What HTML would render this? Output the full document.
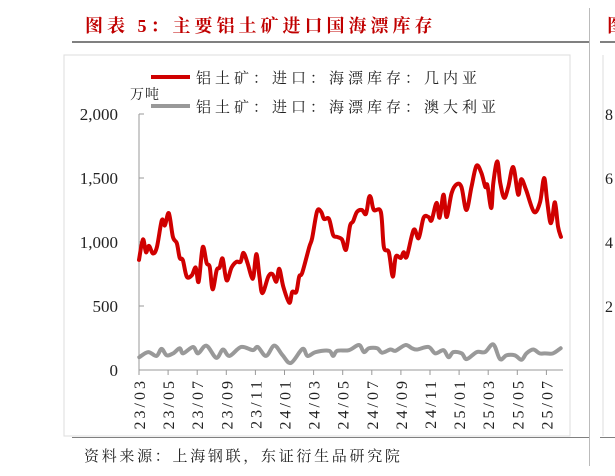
<!DOCTYPE html>
<html><head><meta charset="utf-8"><style>
body{margin:0;background:#fff;width:615px;height:476px;overflow:hidden;position:relative;font-family:"Liberation Serif","Noto Serif CJK SC",serif}
.abs{position:absolute}
</style></head><body>
<div class="abs" style="left:85px;top:12px;font:bold 18px 'Liberation Serif','Noto Serif CJK SC',serif;letter-spacing:4px;color:#c00000;white-space:nowrap">图表 5：主要铝土矿进口国海漂库存</div>
<div class="abs" style="left:72px;top:41px;width:517px;height:2px;background:#808080"></div>
<div class="abs" style="left:589px;top:8px;width:1px;height:458px;background:#bbb"></div>
<div class="abs" style="left:607px;top:12px;font:bold 18px 'Noto Serif CJK SC',serif;color:#c00000">图</div>
<div class="abs" style="left:600px;top:41px;width:15px;height:2px;background:#808080"></div>
<div class="abs" style="left:72px;top:437px;width:517px;height:1px;background:#808080"></div>
<div class="abs" style="left:600px;top:437px;width:15px;height:1px;background:#808080"></div>
<div class="abs" style="left:84px;top:445px;font:15px 'Liberation Serif','Noto Serif CJK SC',serif;letter-spacing:2.7px;color:#222;white-space:nowrap">资料来源：上海钢联，东证衍生品研究院</div>
<svg class="abs" style="left:0;top:0" width="615" height="476" id="chart">
<rect x="64" y="55" width="506" height="381" fill="none" stroke="#ddd"/>
<line x1="603" y1="55" x2="603" y2="436" stroke="#ddd"/>
<g font-family="Liberation Serif" font-size="16" fill="#222">
<text x="605" y="120">8</text><text x="605" y="184">6</text><text x="605" y="248">4</text><text x="605" y="312">2</text></g>
<line x1="151" y1="77" x2="190" y2="77" stroke="#d00000" stroke-width="4"/>
<text x="196" y="83" font-size="15" letter-spacing="4" font-family="Noto Serif CJK SC,serif" fill="#222">铝土矿：进口：海漂库存：几内亚</text>
<line x1="151" y1="106" x2="190" y2="106" stroke="#999" stroke-width="4"/>
<text x="196" y="112" font-size="15" letter-spacing="4" font-family="Noto Serif CJK SC,serif" fill="#222">铝土矿：进口：海漂库存：澳大利亚</text>
<text x="130" y="99" font-size="14" letter-spacing="1" font-family="Noto Serif CJK SC,serif" fill="#222">万吨</text>
</svg>
<script>
const yTicks=[0,500,1000,1500,2000];
const yTickLabels=["0","500","1,000","1,500","2,000"];
const xTickLabels=["23/03","23/05","23/07","23/09","23/11","24/01","24/03","24/05","24/07","24/09","24/11","25/01","25/03","25/05","25/07"];
const guineaMonths=[0,.27,.48,.68,.96,1.23,1.57,1.78,2.05,2.33,2.6,2.8,3.01,3.28,3.63,3.9,4.1,4.38,4.65,4.86,5.06,5.34,5.54,5.75,6.02,6.36,6.7,6.98,7.18,7.46,7.73,7.87,8.07,8.28,8.48,8.89,9.17,9.44,9.64,9.92,10.33,10.53,10.81,11.01,11.22,11.7,11.9,12.24,12.52,12.72,13.06,13.34,13.61,13.95,14.23,14.5,14.71,14.98,15.32,15.6,15.8,15.94,16.14,16.62,16.83,17.17,17.44,17.65,17.99,18.19,18.4,18.88,19.22,19.56,19.9,20.11,20.45,20.66,20.93,21.14,21.48,21.82,22.16,22.5,22.85,23.19,23.53,23.8,23.94,24.21,24.35,24.62,24.83,25.1,25.38,25.72,26.06,26.27,26.61,27.15,27.56,27.84,28.04,28.25,28.39,28.59,28.8,29.0];
const guineaValues=[860,1020,920,970,910,960,1170,1130,1225,1040,990,875,860,730,740,800,690,960,835,805,630,780,800,870,700,800,845,845,915,835,730,730,905,730,600,730,750,690,790,650,525,610,610,730,760,960,1030,1240,1235,1180,1180,1055,1040,1020,940,1125,1160,1235,1250,1220,1345,1345,1250,1235,960,920,730,885,875,920,885,1095,1030,1190,1195,1170,1305,1190,1370,1195,1380,1450,1430,1250,1430,1595,1540,1430,1445,1265,1460,1630,1460,1345,1430,1585,1370,1490,1405,1235,1310,1500,1330,1160,1175,1310,1120,1040];
const australiaMonths=[0.02,.63,1.2,1.55,1.9,2.35,2.8,3.03,3.71,4.06,4.63,5.31,5.77,6.22,7.02,7.82,8.16,8.73,9.3,9.87,10.44,11.24,11.58,12.15,13.06,13.34,13.63,14.43,15.12,15.46,15.8,16.37,16.71,17.28,17.63,18.31,18.76,19.11,19.9,20.36,20.93,21.27,21.61,22.18,22.52,23.21,23.78,24.35,24.81,25.26,25.83,26.29,26.63,27.09,27.54,27.89,28.45,28.98];
const australiaValues=[100,140,110,165,115,130,170,130,180,130,190,95,160,110,180,155,180,110,190,115,55,165,110,140,150,110,150,155,195,140,170,170,135,160,150,195,170,160,180,130,155,100,140,130,85,140,140,200,85,115,115,80,130,160,130,130,130,170];
const NS='http://www.w3.org/2000/svg';
const svg=document.getElementById('chart');
const X0=139,X1=563,PX_PER_MONTH=14.55,Y0=370,Y1=114;
const xs=m=>X0+m*PX_PER_MONTH;
const ys=v=>Y0-(v/2000)*(Y0-Y1);
function mk(t,a){const e=document.createElementNS(NS,t);for(const k in a)e.setAttribute(k,a[k]);svg.appendChild(e);return e;}
const yAxis=mk('line',{x1:X0,y1:Y1,x2:X0,y2:Y0,stroke:'#999'});


const xAxis=mk('line',{x1:X0,y1:Y0,x2:X1,y2:Y0,stroke:'#999'});


yTicks.forEach((v,i)=>{
 const t=mk('line',{x1:X0,y1:ys(v),x2:X0+5,y2:ys(v),stroke:'#999'});
 
 
 const l=mk('text',{x:118,y:ys(v)+6,'text-anchor':'end','font-size':17,'font-family':'Liberation Serif',fill:'#222'});
 l.textContent=yTickLabels[i];
 
 
});
xTickLabels.forEach((s,i)=>{
 const x=xs(i*2);
 const t=mk('line',{x1:x,y1:Y0,x2:x,y2:Y0+5,stroke:'#999'});
 
 
 const l=mk('text',{x:0,y:0,'text-anchor':'end','font-size':16,'letter-spacing':3,'font-family':'Liberation Serif',fill:'#222',transform:`translate(${x+6},378) rotate(-90)`});
 l.textContent=s;
 
 
});
function smooth(ms,vs){
 const p=ms.map((m,i)=>[xs(m),ys(vs[i])]);
 let d=`M${p[0][0]},${p[0][1]}`;
 for(let i=0;i<p.length-1;i++){
  const a=p[i-1]||p[i],b=p[i],c=p[i+1],e=p[i+2]||c;
  d+=` C${b[0]+(c[0]-a[0])/6},${b[1]+(c[1]-a[1])/6} ${c[0]-(e[0]-b[0])/6},${c[1]-(e[1]-b[1])/6} ${c[0]},${c[1]}`;
 }
 return d;
}
const au=mk('path',{d:smooth(australiaMonths,australiaValues),fill:'none',stroke:'#999','stroke-width':4,'stroke-linejoin':'round','stroke-linecap':'round'});


const gu=mk('path',{d:smooth(guineaMonths,guineaValues),fill:'none',stroke:'#d00000','stroke-width':4,'stroke-linejoin':'round','stroke-linecap':'round'});


</script>
</body></html>
